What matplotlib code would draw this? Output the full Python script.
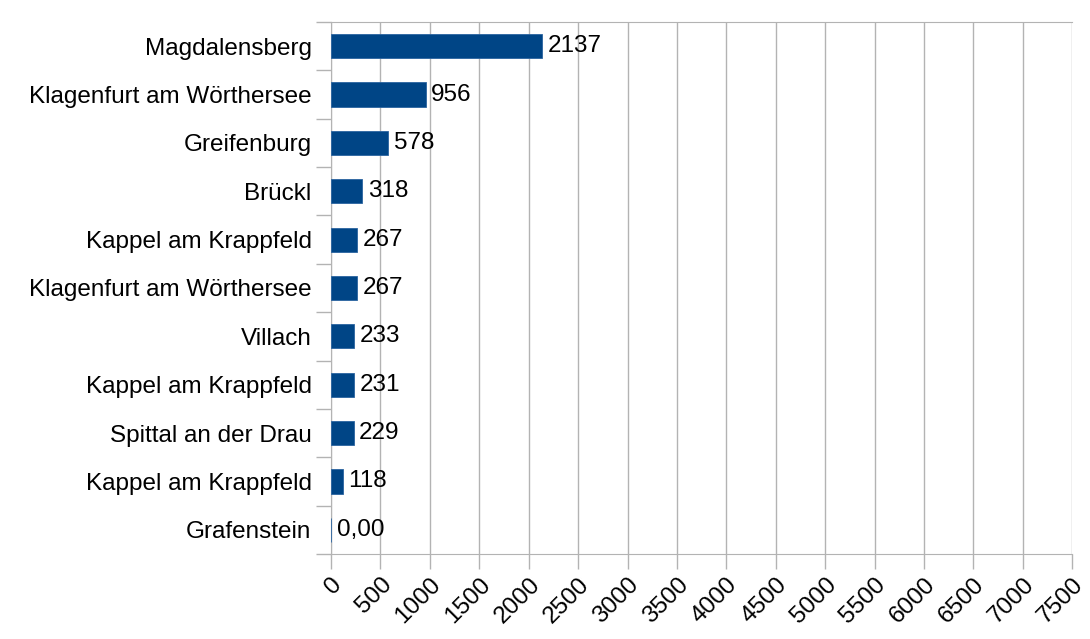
import matplotlib.pyplot as plt
import numpy as np

# DATA
places = ["Magdalensberg", "Klagenfurt am Wörthersee", "Greifenburg", "Brückl",
          "Kappel am Krappfeld", "Klagenfurt am Wörthersee", "Villach",
          "Kappel am Krappfeld", "Spittal an der Drau", "Kappel am Krappfeld",
          "Grafenstein"]
values = [2137, 956, 578, 318, 267, 267, 233, 231, 229, 118, 0]
value_labels = ["2137", "956", "578", "318", "267", "267", "233", "231", "229", "118", "0,00"]
x_ticks = list(range(0, 7501, 500))

plt.rcParams['font.family'] = ['Liberation Sans', 'DejaVu Sans']
grid_col = "#b3b3b3"
fs = 17.5

fig = plt.figure(figsize=(10.9, 6.39), dpi=100)
ax = fig.add_axes([0.3037, 0.133, 0.68, 0.8326])

y = np.arange(len(places))
bars = ax.barh(y, values, height=0.5, color="#004586", edgecolor="#2a64a0", linewidth=0.6, zorder=3)
ax.bar_label(bars, labels=value_labels, padding=4, fontsize=fs)

ax.set_xlim(0, 7500)
ax.set_ylim(len(places) - 0.5, -0.5)
ax.set_xticks(x_ticks)
ax.set_xticklabels([str(t) for t in x_ticks], rotation=45, ha="right", va="top",
                   rotation_mode="anchor", fontsize=fs)
ax.set_yticks(y)
ax.set_yticklabels(places, fontsize=fs)
ax.set_yticks(np.arange(len(places) + 1) - 0.5, minor=True)
ax.tick_params(axis="y", which="major", length=0, pad=14)
ax.tick_params(axis="y", which="minor", length=11, color=grid_col, width=1)
ax.tick_params(axis="x", length=11, color=grid_col, width=1, pad=3)

ax.grid(axis="x", color=grid_col, linewidth=1, zorder=0)
ax.set_axisbelow(True)
for s in ["top", "bottom", "left"]:
    ax.spines[s].set_color(grid_col)
ax.spines["right"].set_visible(False)

fig.savefig("out.png", dpi=100)
